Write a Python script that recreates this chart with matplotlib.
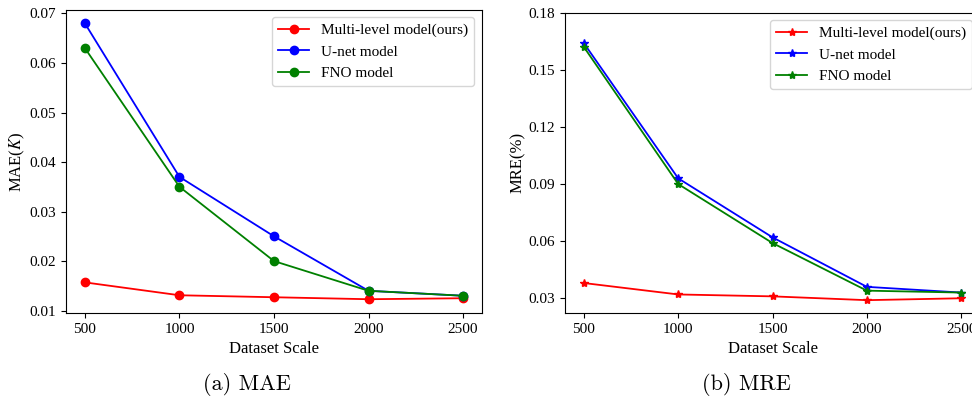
import matplotlib
matplotlib.use("Agg")
import matplotlib.pyplot as plt

# данные
scale = [500, 1000, 1500, 2000, 2500]

mae_ours = [0.0157, 0.0131, 0.0127, 0.0123, 0.0125]
mae_unet = [0.068, 0.037, 0.025, 0.014, 0.013]
mae_fno = [0.063, 0.035, 0.020, 0.014, 0.013]

mre_ours = [0.038, 0.032, 0.031, 0.029, 0.030]
mre_unet = [0.164, 0.093, 0.062, 0.036, 0.033]
mre_fno = [0.162, 0.090, 0.059, 0.034, 0.033]
mre_ticks = [0.03, 0.06, 0.09, 0.12, 0.15, 0.18]

labels = ['Multi-level model(ours)', 'U-net model', 'FNO model']
colors = ['red', 'blue', 'green']

plt.rcParams['font.family'] = ['Liberation Serif', 'DejaVu Serif']
plt.rcParams['mathtext.fontset'] = 'stix'
plt.rcParams['font.size'] = 11

fig = plt.figure(figsize=(9.72, 3.99), dpi=100)
ax1 = fig.add_axes([0.0679, 0.2155, 0.428, 0.7605])
ax2 = fig.add_axes([0.5813, 0.2155, 0.427, 0.7525])

"""
график MAE
"""
for ys, lab, c in zip([mae_ours, mae_unet, mae_fno], labels, colors):
    ax1.plot(scale, ys, c=c, marker='o', markersize=6, lw=1.3, label=lab)
ax1.set_xticks(scale)
ax1.set_xlabel('Dataset Scale', fontsize=12)
ax1.set_ylabel('MAE($K$)', fontsize=12, labelpad=2)
ax1.legend(loc='upper right', fontsize=11)

"""
график MRE
"""
for ys, lab, c in zip([mre_ours, mre_unet, mre_fno], labels, colors):
    ax2.plot(scale, ys, c=c, marker='*', markersize=6, lw=1.3, label=lab)
ax2.set_xticks(scale)
ax2.set_yticks(mre_ticks)
ax2.set_xlabel('Dataset Scale', fontsize=12)
ax2.set_ylabel('MRE(%)', fontsize=12, labelpad=2)
ax2.legend(loc='upper right', fontsize=11)

fig.text(247 / 972, 1 - 385 / 399, '(a) MAE', family='cmr10', fontsize=16,
         ha='center', va='center')
fig.text(746 / 972, 1 - 385 / 399, '(b) MRE', family='cmr10', fontsize=16,
         ha='center', va='center')

fig.savefig('out.png', dpi=100)
